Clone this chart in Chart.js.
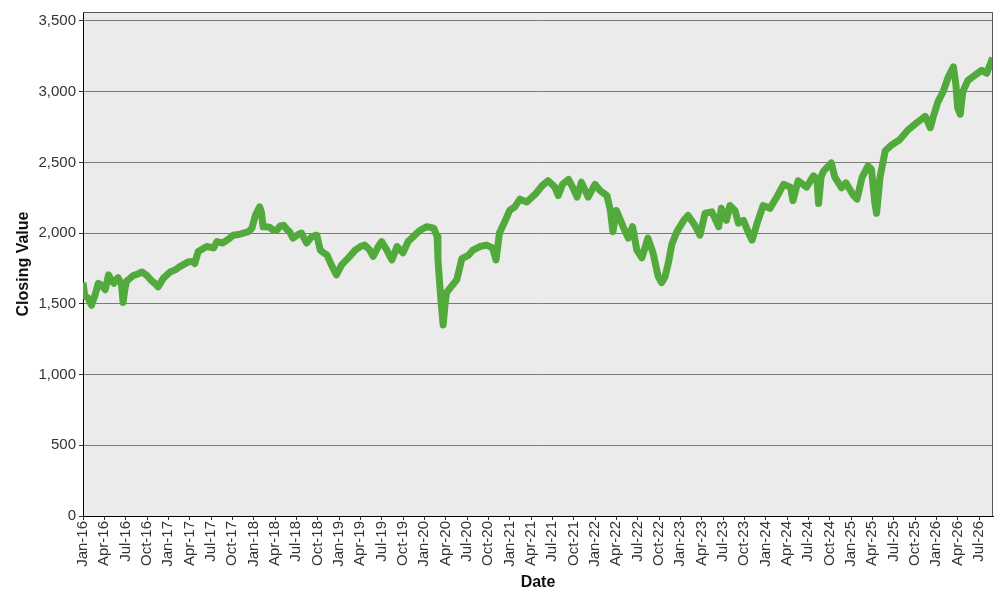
<!DOCTYPE html>
<html>
<head>
<meta charset="utf-8">
<script src="https://cdn.jsdelivr.net/npm/chart.js@4"></script>
<style>
  body { margin: 0; background: #fff; }
</style>
</head>
<body>
<canvas id="grafico" width="1000" height="600"></canvas>
<script>
// dates as decimal years (2016.0 = Jan 2016)
const years = [
  2016.00, 2016.02, 2016.06, 2016.10, 2016.14, 2016.18, 2016.22, 2016.26, 2016.30, 2016.33,
  2016.36, 2016.41, 2016.45, 2016.47, 2016.49, 2016.51, 2016.55, 2016.59, 2016.64, 2016.69,
  2016.75, 2016.80, 2016.85, 2016.88, 2016.94, 2017.02, 2017.08, 2017.14, 2017.23, 2017.29,
  2017.31, 2017.35, 2017.45, 2017.53, 2017.57, 2017.64, 2017.70, 2017.76, 2017.82, 2017.88,
  2017.94, 2017.98, 2018.02, 2018.07, 2018.09, 2018.11, 2018.15, 2018.19, 2018.23, 2018.27,
  2018.31, 2018.35, 2018.39, 2018.42, 2018.46, 2018.52, 2018.56, 2018.62, 2018.68, 2018.74,
  2018.78, 2018.82, 2018.86, 2018.91, 2018.97, 2019.00, 2019.03, 2019.11, 2019.19, 2019.25,
  2019.30, 2019.36, 2019.40, 2019.46, 2019.50, 2019.56, 2019.62, 2019.68, 2019.75, 2019.81,
  2019.87, 2019.95, 2020.03, 2020.11, 2020.15, 2020.16, 2020.19, 2020.22, 2020.24, 2020.26,
  2020.32, 2020.38, 2020.44, 2020.52, 2020.57, 2020.65, 2020.73, 2020.80, 2020.84, 2020.88,
  2020.95, 2021.00, 2021.06, 2021.12, 2021.20, 2021.30, 2021.38, 2021.45, 2021.53, 2021.57,
  2021.62, 2021.69, 2021.75, 2021.79, 2021.84, 2021.92, 2022.00, 2022.06, 2022.14, 2022.18,
  2022.21, 2022.25, 2022.33, 2022.39, 2022.44, 2022.49, 2022.55, 2022.62, 2022.68, 2022.74,
  2022.78, 2022.82, 2022.86, 2022.90, 2022.96, 2023.04, 2023.09, 2023.17, 2023.23, 2023.29,
  2023.37, 2023.45, 2023.48, 2023.54, 2023.58, 2023.64, 2023.68, 2023.74, 2023.80, 2023.84,
  2023.90, 2023.97, 2024.05, 2024.13, 2024.21, 2024.29, 2024.32, 2024.38, 2024.48, 2024.56,
  2024.60, 2024.62, 2024.65, 2024.68, 2024.77, 2024.81, 2024.89, 2024.94, 2025.03, 2025.07,
  2025.13, 2025.20, 2025.24, 2025.28, 2025.30, 2025.34, 2025.40, 2025.48, 2025.57, 2025.67,
  2025.77, 2025.87, 2025.93, 2025.96, 2026.02, 2026.08, 2026.14, 2026.20, 2026.23, 2026.25,
  2026.28, 2026.31, 2026.37, 2026.45, 2026.53, 2026.59, 2026.66
];

const closingValues = [
  1650, 1560, 1540, 1490, 1560, 1645, 1630, 1600, 1705, 1670,
  1645, 1685, 1640, 1510, 1600, 1660, 1680, 1700, 1710, 1725,
  1700, 1665, 1640, 1620, 1680, 1725, 1740, 1765, 1795, 1800,
  1785, 1870, 1905, 1895, 1940, 1930, 1955, 1985, 1990, 2000,
  2010, 2035, 2125, 2185, 2150, 2045, 2045, 2040, 2020, 2020,
  2050, 2055, 2025, 2010, 1965, 1990, 2000, 1930, 1975, 1985,
  1880, 1860, 1845, 1775, 1705, 1740, 1775, 1825, 1880, 1905,
  1915, 1880, 1835, 1905, 1940, 1880, 1810, 1905, 1860, 1940,
  1975, 2020, 2045, 2035, 1975, 1810, 1560, 1350, 1480, 1580,
  1625, 1670, 1820, 1845, 1880, 1905, 1915, 1895, 1810, 2000,
  2090, 2160, 2185, 2240, 2220, 2275, 2335, 2370, 2325, 2265,
  2345, 2380, 2310, 2255, 2360, 2255, 2345, 2300, 2265, 2160,
  2010, 2160, 2045, 1965, 2045, 1880, 1825, 1965, 1860, 1695,
  1650, 1690, 1790, 1920, 2010, 2090, 2125, 2055, 1985, 2140,
  2150, 2045, 2175, 2090, 2195, 2160, 2070, 2090, 2000, 1950,
  2070, 2195, 2175, 2255, 2345, 2325, 2230, 2370, 2325, 2405,
  2380, 2210, 2400, 2440, 2495, 2395, 2320, 2355, 2265, 2240,
  2395, 2475, 2450, 2210, 2140, 2395, 2580, 2625, 2660, 2730,
  2780, 2825, 2745, 2815, 2930, 3000, 3105, 3175, 3045, 2885,
  2840, 3000, 3080, 3115, 3150, 3130, 3240
];

const tickLabels = [];
for (let y = 16; y <= 26; y++) {
  for (const m of ["Jan", "Apr", "Jul", "Oct"]) {
    if (y === 26 && m === "Oct") continue;
    tickLabels.push(m + "-" + y);
  }
}
const tickYears = tickLabels.map((_, i) => 2016 + i * 0.25);
const yTicks = [0, 500, 1000, 1500, 2000, 2500, 3000, 3500];

const fonte = "'Liberation Sans', Arial, sans-serif";

// fundo cinza da área do gráfico e borda superior/direita
const fundoPlot = {
  id: "fundoPlot",
  beforeDraw(chart) {
    const { ctx, chartArea: a } = chart;
    ctx.save();
    ctx.fillStyle = "#ebebeb";
    ctx.fillRect(a.left, a.top, a.right - a.left, a.bottom - a.top);
    ctx.restore();
  },
  afterDraw(chart) {
    const { ctx, chartArea: a } = chart;
    ctx.save();
    ctx.strokeStyle = "#555";
    ctx.lineWidth = 1;
    ctx.beginPath();
    ctx.moveTo(a.left, a.top + 0.5);
    ctx.lineTo(a.right - 0.5, a.top + 0.5);
    ctx.lineTo(a.right - 0.5, a.bottom);
    ctx.stroke();
    ctx.restore();
  },
};

new Chart(document.getElementById("grafico"), {
  type: "line",
  data: {
    datasets: [
      {
        label: "Closing Value",
        data: years.map((t, i) => ({ x: t, y: closingValues[i] })),
        borderColor: "#52aa3c",
        borderWidth: 7,
        borderJoinStyle: "round",
        pointRadius: 0,
        tension: 0,
        fill: false,
      },
    ],
  },
  options: {
    responsive: false,
    animation: false,
    layout: { padding: { top: 6, right: 7, left: 0, bottom: 0 } },
    plugins: { legend: { display: false }, tooltip: { enabled: false } },
    scales: {
      x: {
        type: "linear",
        min: 2016,
        max: 2026.664,
        afterBuildTicks: (scale) => {
          scale.ticks = tickYears.map((v) => ({ value: v }));
        },
        afterFit: (scale) => {
          scale.height = 84;
        },
        ticks: {
          autoSkip: false,
          minRotation: 90,
          maxRotation: 90,
          padding: 1,
          color: "#333",
          font: { family: fonte, size: 15 },
          callback: (value, index) => tickLabels[index],
        },
        grid: {
          drawOnChartArea: false,
          drawTicks: true,
          tickLength: 4,
          tickColor: "#333",
        },
        border: { display: true, color: "#000", width: 1 },
        title: {
          display: true,
          text: "Date",
          color: "#111",
          font: { family: fonte, size: 16, weight: "bold" },
          padding: { top: 0, bottom: 8 },
        },
      },
      y: {
        min: 0,
        max: 3563,
        afterBuildTicks: (scale) => {
          scale.ticks = yTicks.map((v) => ({ value: v }));
        },
        afterFit: (scale) => {
          scale.width = 83;
        },
        ticks: {
          padding: 3,
          color: "#333",
          font: { family: fonte, size: 15 },
          callback: (value) => value.toLocaleString("en-US"),
        },
        grid: {
          color: "#7a7a7a",
          lineWidth: 1,
          tickLength: 4,
          tickColor: "#333",
        },
        border: { display: true, color: "#000", width: 1 },
        title: {
          display: true,
          text: "Closing Value",
          color: "#111",
          font: { family: fonte, size: 16, weight: "bold" },
          padding: { top: 14, bottom: 0 },
        },
      },
    },
  },
  plugins: [fundoPlot],
});
</script>
</body>
</html>
